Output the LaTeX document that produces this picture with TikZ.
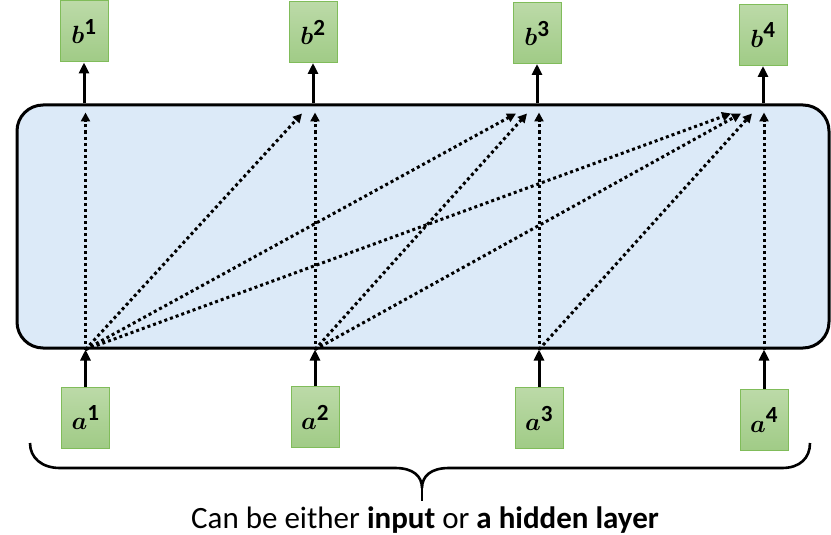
\documentclass[tikz,border=0pt]{standalone}
\usepackage{amsmath}
\usepackage{bm}
\usepackage{fontspec}
\setmainfont{Carlito}
\usetikzlibrary{arrows.meta, calc}
\definecolor{cLayer}{RGB}{220,234,248}
\definecolor{cGreenTop}{RGB}{188,218,168}
\definecolor{cGreenBot}{RGB}{160,203,134}
\definecolor{cGreenEdge}{RGB}{128,188,90}
\tikzset{
	vec/.style   ={rectangle, draw=cGreenEdge, line width=1pt, top color=cGreenTop, bottom color=cGreenBot, minimum width=48pt, minimum height=61pt, inner sep=0pt, font=\fontsize{33}{36}\selectfont},
	layer/.style ={rectangle, rounded corners=26pt, draw=black, line width=3pt, fill=cLayer, minimum width=812pt, minimum height=243pt, inner sep=0pt},
	sig/.style   ={-{Triangle[length=11pt, width=10pt]}, line width=3pt},
	attn/.style  ={-{Triangle[length=9pt, width=9pt]}, line width=3pt, dash pattern=on 3pt off 3pt},
	brace/.style ={line width=2.6pt},
}
\begin{document}
\begin{tikzpicture}[x=1pt, y=-1pt]
	\useasboundingbox (0,0) rectangle (831,535);
	\node[layer] (lay) at (423,226.5) {};
	% outputs
	\node[vec] (b1) at (84,31.5) {$\bm{b}^{\mathbf{1}}$};
	\node[vec] (b2) at (313,32) {$\bm{b}^{\mathbf{2}}$};
	\node[vec] (b3) at (537,33) {$\bm{b}^{\mathbf{3}}$};
	\node[vec] (b4) at (763,35) {$\bm{b}^{\mathbf{4}}$};
	% inputs
	\node[vec] (a1) at (85.5,417.5) {$\bm{a}^{\mathbf{1}}$};
	\node[vec] (a2) at (315,417) {$\bm{a}^{\mathbf{2}}$};
	\node[vec] (a3) at (539,418) {$\bm{a}^{\mathbf{3}}$};
	\node[vec] (a4) at (764,420) {$\bm{a}^{\mathbf{4}}$};
	\coordinate (s1) at (a1 |- lay.south);
	\coordinate (s2) at (a2 |- lay.south);
	\coordinate (s3) at (a3 |- lay.south);
	\coordinate (s4) at (a4 |- lay.south);
	\draw[sig] (a1) -- (s1); \draw[sig] (a2) -- (s2); \draw[sig] (a3) -- (s3); \draw[sig] (a4) -- (s4);
	\draw[sig] (b1 |- lay.north) -- (b1); \draw[sig] (b2 |- lay.north) -- (b2);
	\draw[sig] (b3 |- lay.north) -- (b3); \draw[sig] (b4 |- lay.north) -- (b4);
	% dotted connections inside the layer
	\draw[attn] (s1) -- ($(s1 |- lay.north)+(0,9)$);
	\draw[attn] (s1) -- ($(b2 |- lay.north)+(-11,10)$);
	\draw[attn] (s1) -- ($(b3 |- lay.north)+(-21,10)$);
	\draw[attn] (s1) -- ($(b4 |- lay.north)+(-32,10)$);
	\draw[attn] (s2) -- ($(s2 |- lay.north)+(0,9)$);
	\draw[attn] (s2) -- ($(b3 |- lay.north)+(-10,10)$);
	\draw[attn] (s2) -- ($(b4 |- lay.north)+(-22,10)$);
	\draw[attn] (s3) -- ($(s3 |- lay.north)+(0,9)$);
	\draw[attn] (s3) -- ($(b4 |- lay.north)+(-11,10)$);
	\draw[attn] (s4) -- ($(s4 |- lay.north)+(0,9)$);
	% brace and caption
	\draw[brace] (30,443) .. controls (30,458) and (42,468) .. (60,468) -- (395,468)
		.. controls (413,468) and (422,476) .. (422,488)
		.. controls (422,476) and (431,468) .. (449,468) -- (782,468)
		.. controls (800,468) and (810,458) .. (810,443);
	\draw[brace] (422,486) -- (422,501);
	\node[anchor=base, font=\fontsize{31}{36}\selectfont] (cap) at (425,528) {Can be either \textbf{input} or \textbf{a hidden layer}};
\end{tikzpicture}
\end{document}
